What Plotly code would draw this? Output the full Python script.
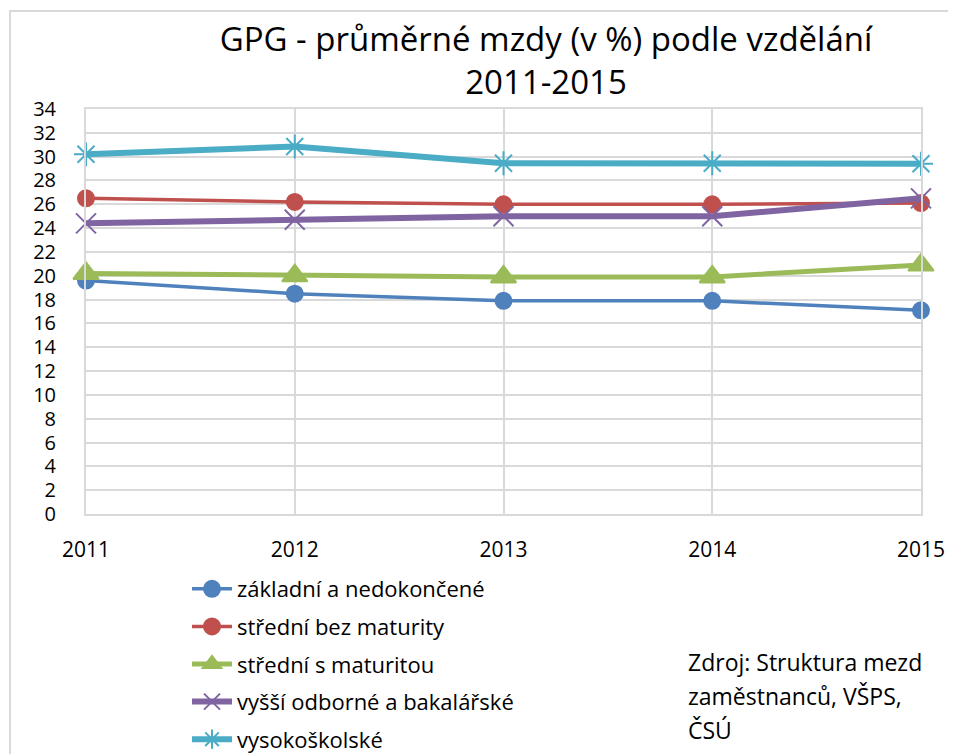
import plotly.graph_objects as go

years = ["2011", "2012", "2013", "2014", "2015"]
zakladni = [19.6, 18.5, 17.9, 17.9, 17.1]
stredni_bez = [26.5, 26.2, 26.0, 26.0, 26.1]
stredni_s = [20.2, 20.0, 19.9, 19.9, 20.9]
vyssi = [24.4, 24.7, 25.0, 25.0, 26.5]
vysoko = [30.2, 30.85, 29.45, 29.45, 29.4]

names = ["základní a nedokončené", "střední bez maturity", "střední s maturitou",
         "vyšší odborné a bakalářské", "vysokoškolské"]
series = [zakladni, stredni_bez, stredni_s, vyssi, vysoko]
colors = ["#4F81BD", "#C0504D", "#9BBB59", "#8064A2", "#4BACC6"]
widths = [3.5, 3.5, 5, 6, 6]
symbols = ["circle", "circle", "triangle-up", "x-thin-open", "asterisk-open"]
msizes = [16, 16, 22, 20, 20]

# page body has an 8px margin: work in screen pixels, convert to figure pixels
OFF = 8
W, H = 956 - OFF, 754 - OFF
PL, PR, PT, PB = 86, 921, 109, 514          # plot area in screen pixels
L, R, T, B = PL - OFF, W - (PR - OFF), PT - OFF, H - (PB - OFF)
pw, ph = W - L - R, H - T - B

def px(x):
    return (x - OFF - L) / pw

def py(y):
    return (H - B - (y - OFF)) / ph

FONT = "Open Sans"

fig = go.Figure()
for i, (n, s) in enumerate(zip(names, series)):
    fig.add_trace(go.Scatter(
        x=years, y=s, name=n, mode="lines+markers", legendgroup=str(i),
        line=dict(color=colors[i], width=widths[i]),
        marker=dict(symbol=symbols[i], size=msizes[i], color=colors[i],
                    line=dict(color=colors[i], width=2)),
        cliponaxis=False,
    ))

fig.update_layout(
    width=W, height=H,
    margin=dict(l=L, r=R, t=T, b=B, autoexpand=False),
    paper_bgcolor="white", plot_bgcolor="white",
    font=dict(family=FONT, size=20, color="#000000"),
    title=dict(text="GPG - průměrné mzdy (v %) podle vzdělání<br>2011-2015",
               x=px(546), xref="paper", xanchor="center",
               y=1 - (51 - OFF) / H, yanchor="middle",
               font=dict(family=FONT, size=33, color="#000000")),
    showlegend=True,
    legend=dict(x=px(187), y=py(568), xanchor="left", yanchor="top",
                orientation="v", tracegroupgap=6, itemwidth=40,
                font=dict(family=FONT, size=22, color="#000000"),
                bgcolor="rgba(0,0,0,0)"),
    xaxis=dict(type="category", range=[0, 4], showgrid=True, gridcolor="#d9d9d9",
               gridwidth=2, showline=True, linecolor="#d9d9d9", linewidth=2, mirror=True,
               ticks="", ticklabelstandoff=16, tickfont=dict(size=21), zeroline=False),
    yaxis=dict(range=[0, 34], dtick=2, showgrid=True, gridcolor="#d9d9d9", gridwidth=2,
               showline=True, linecolor="#d9d9d9", linewidth=2, mirror=True,
               ticks="", ticklabelstandoff=24, tickfont=dict(size=20), zeroline=False),
)

src_lines = ["Zdroj: Struktura mezd", "zaměstnanců, VŠPS,", "ČSÚ"]
for k, t in enumerate(src_lines):
    fig.add_annotation(text=t, xref="paper", yref="paper", x=px(686), y=py(662 + 34 * k),
                       xanchor="left", yanchor="middle", showarrow=False,
                       font=dict(family=FONT, size=23, color="#000000"))

fig.add_shape(type="rect", xref="paper", yref="paper",
              x0=px(10), x1=px(975), y0=py(775), y1=py(11),
              line=dict(color="#d9d9d9", width=2), fillcolor="rgba(0,0,0,0)", layer="below")

fig.write_html("out.html")
